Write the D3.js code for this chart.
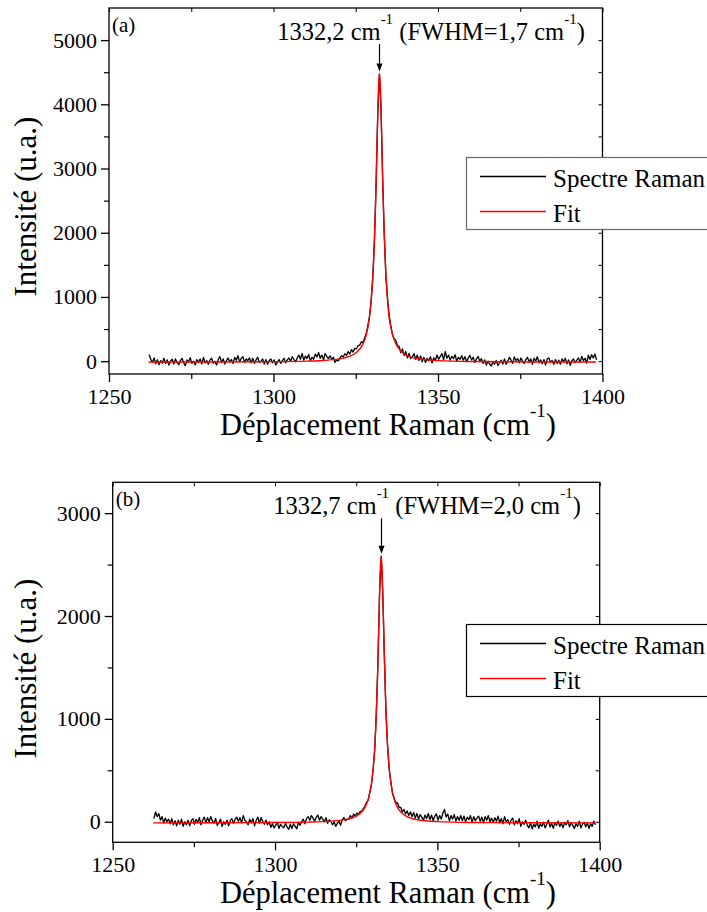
<!DOCTYPE html>
<html><head><meta charset="utf-8">
<script src="https://cdn.jsdelivr.net/npm/d3@7"></script>
<style>
body{margin:0;background:#fff;overflow:hidden}
svg{display:block}
</style>
</head><body>
<svg id="chart" width="707" height="912"></svg>
<script>
// ---------- data ----------
const xTicks = [1250, 1300, 1350, 1400];
const xMinorTicks = [1275, 1325, 1375];
const yTicksA = [0, 1000, 2000, 3000, 4000, 5000];
const yMinorA = [500, 1500, 2500, 3500, 4500];
const yTicksB = [0, 1000, 2000, 3000];
const yMinorB = [500, 1500, 2500];

const seriesNames = ["Spectre Raman", "Fit"];
const panelLabels = ["(a)", "(b)"];
const peakPositions = [1332.2, 1332.7];
const peakLabels = ["1332,2", "1332,7"];
const fwhmLabels = ["1,7", "2,0"];

// Raman spectrum (a): first wavenumber 1262.2, step 0.5 cm-1
const specAStart = 1262.2, specAStep = 0.5;
const specA = [
 100, 30, -20, 50, -40, 20, -55, 10, -30, 45,
 -35, 20, -60, 0, 30, -45, 35, -20, -55, 10,
 45, -25, -70, 20, -10, 55, -35, 0, -60, 25,
 -20, 35, -45, 60, -25, 10, -50, 20, 45, -35,
 0, -60, 25, 70, -20, 35, -45, 10, 50, -10,
 25, -35, 60, 15, 85, -10, 45, 70, -20, 35,
 10, 50, -25, 45, -35, 20, 60, -20, 0, 35,
 -45, 25, -50, 10, 35, -25, 20, -60, -15, 25,
 -35, 10, 45, -25, 20, 50, 0, 70, 25, -10,
 50, 95, 30, 120, 15, 80, 40, 105, 5, 60,
 30, 110, 65, 135, 45, 95, 20, 120, 75, 40,
 85, 30, 60, -20, 20, 5, 50, 85, 65, 115,
 90, 150, 110, 180, 140, 200, 190, 240, 250, 300,
 290, 360, 430, 560, 700, 960, 1330, 1900, 2780, 3870,
 4470, 3900, 2790, 1920, 1300, 950, 700, 540, 400, 350,
 320, 240, 230, 130, 190, 90, 150, 50, 120, 40,
 70, 120, 30, 95, 10, 80, -10, 60, -20, 45,
 5, 70, -25, 50, 15, 95, 30, 75, 120, 20,
 150, 45, 95, 15, 75, 40, 100, 0, 60, 30,
 85, 15, 70, -10, 50, 90, 20, 60, -20, 35,
 75, 0, 40, -35, 20, -60, 0, -45, -75, -15,
 -50, 10, -70, -25, 15, -45, 35, -50, 0, 60,
 15, -35, 65, 10, 40, -25, 50, 0, -35, 25,
 60, -15, 35, -50, 45, 0, 70, -25, 20, -40,
 25, -60, 35, 50, -15, 10, -50, 25, -35, 15,
 -50, 35, -10, 45, -40, 20, -65, 10, 35, -25,
 15, 50, -15, 75, 10, 45, -30, 95, 25, 100,
 50, 110, 20
];
const fitAX = [1262, 1280, 1300, 1310, 1315, 1320, 1323, 1325, 1327, 1328, 1329, 1330, 1330.5, 1331, 1331.5, 1332, 1332.2, 1332.5, 1333, 1333.5, 1334, 1334.5, 1335, 1336, 1337, 1339, 1341, 1345, 1350, 1360, 1380, 1398];
const fitAY = [-14, -12, -8, 0, 10, 35, 73, 127, 249, 377, 620, 1144, 1638, 2404, 3458, 4361, 4480, 4238, 3234, 2225, 1521, 1070, 745, 456, 289, 143, 80, 31, 9, -5, -12, -13];

// Raman spectrum (b): first wavenumber 1262.7, step 0.5 cm-1
const specBStart = 1262.7, specBStep = 0.5;
const specB = [
 30, 95, 50, 80, 15, 50, -10, 35, 0, 25,
 -20, 30, -30, 10, -40, 15, -25, 25, -45, 0,
 -30, 15, -40, 10, 30, -25, 25, -10, 40, -30,
 15, 45, -10, 40, 0, 50, 10, -15, 30, -35,
 -10, 25, -45, 0, -25, 15, -40, 10, 30, -15,
 25, 45, 5, 40, -10, 60, 15, 0, -30, 25,
 -10, 30, -40, 15, 45, -15, 40, 5, -25, 15,
 -30, 0, -55, -20, -60, -35, -5, -65, -25, -45,
 -60, -15, -50, -75, -25, -65, -20, -45, -70, -5,
 -35, 0, 25, -20, 30, 50, 15, 60, 35, 5,
 45, 65, 15, 50, 25, 0, 40, -15, 20, 5,
 -30, 0, -45, -15, 5, -35, 20, 40, 10, 25,
 25, 60, 35, 75, 55, 85, 70, 100, 100, 130,
 150, 190, 210, 290, 360, 510, 700, 1060, 1550, 2230,
 2580, 2200, 1580, 1040, 720, 500, 380, 270, 230, 180,
 185, 140, 140, 95, 120, 75, 105, 60, 95, 50,
 90, 35, 80, 25, 70, 45, 15, 65, 30, 80,
 20, 65, 10, 55, 75, 15, 60, 25, 85, 120,
 45, 75, 10, 60, 25, 70, 5, 50, 15, 60,
 10, 55, 0, 45, 20, 60, -5, 50, 10, 35,
 55, 5, 45, -10, 50, 15, 60, 0, 35, -5,
 40, 5, 55, -10, 30, -20, 50, 0, 20, -25,
 15, 35, -30, 10, -20, 30, -45, 0, -25, 15,
 -35, -60, -10, -70, -25, -50, 5, -65, -20, -45,
 -5, -60, -25, 15, -50, -15, -65, -10, -35, 5,
 -45, -15, -60, -5, -30, 10, -50, -10, -35, -65,
 -20, -45, 5, -60, -25, -5, -50, -10, -65, -20,
 -45, 5, -30
];
const fitBX = [1262.5, 1280, 1300, 1310, 1315, 1320, 1323, 1325, 1327, 1328, 1329, 1330, 1330.5, 1331, 1331.5, 1332, 1332.5, 1332.7, 1333, 1333.5, 1334, 1334.5, 1335, 1336, 1337, 1339, 1341, 1345, 1350, 1360, 1380, 1398.5];
const fitBY = [-11, -10, -8, -4, 1, 13, 30, 54, 107, 159, 253, 444, 620, 895, 1333, 1956, 2508, 2585, 2432, 1822, 1230, 829, 577, 312, 189, 86, 45, 14, 1, -7, -10, -11];

// ---------- layout ----------
const FONT = "'Liberation Serif', Tinos, 'Times New Roman', Times, 'Noto Serif', 'DejaVu Serif', FreeSerif, serif";
const panels = [
  {box:{l:109, r:602.5, t:8, b:374}, yDomain:[-200, 5500], yTicks:yTicksA, yMinor:yMinorA,
   specStart:specAStart, specStep:specAStep, spec:specA, fitX:fitAX, fitY:fitAY,
   annotCX:431, legendY:157, legendStroke:"#666", titleCY:206.5},
  {box:{l:112.7, r:599.7, t:482.3, b:842.3}, yDomain:[-200, 3300], yTicks:yTicksB, yMinor:yMinorB,
   specStart:specBStart, specStep:specBStep, spec:specB, fitX:fitBX, fitY:fitBY,
   annotCX:427, legendY:624.3, legendStroke:"#000", titleCY:668.5}
];

const svg = d3.select("#chart").attr("font-family", FONT);

panels.forEach((p, i) => {
  const {l, r, t, b} = p.box;
  const x = d3.scaleLinear().domain([1250, 1400]).range([l, r]);
  const y = d3.scaleLinear().domain(p.yDomain).range([b, t]);
  const g = svg.append("g");

  // frame
  g.append("rect").attr("x", l).attr("y", t).attr("width", r - l).attr("height", b - t)
    .attr("fill", "none").attr("stroke", "#000").attr("stroke-width", 1.3);

  // bottom axis
  const bx = g.append("g").attr("transform", `translate(0,${b})`)
    .call(d3.axisBottom(x).tickValues(xTicks).tickSize(8).tickSizeOuter(0).tickFormat(d3.format("d")));
  bx.attr("font-family", FONT).attr("font-size", 22);
  bx.select(".domain").remove();
  bx.selectAll("line").attr("stroke-width", 1.3);
  bx.selectAll("text").attr("y", 14).attr("dy", "0.71em");
  g.append("g").attr("transform", `translate(0,${b})`)
    .call(d3.axisBottom(x).tickValues(xMinorTicks).tickSize(5).tickFormat(""))
    .call(s => { s.select(".domain").remove(); s.selectAll("line").attr("stroke-width", 1.2); });

  // top axis (inward ticks)
  g.append("g").attr("transform", `translate(0,${t})`)
    .call(d3.axisBottom(x).tickValues(xTicks.concat(xMinorTicks)).tickSize(4).tickFormat(""))
    .call(s => { s.select(".domain").remove(); s.selectAll("line").attr("stroke-width", 1); });

  // left axis
  const ly = g.append("g").attr("transform", `translate(${l},0)`)
    .call(d3.axisLeft(y).tickValues(p.yTicks).tickSize(8).tickSizeOuter(0).tickFormat(d3.format("d")));
  ly.attr("font-family", FONT).attr("font-size", 22);
  ly.select(".domain").remove();
  ly.selectAll("line").attr("stroke-width", 1.3);
  ly.selectAll("text").attr("x", -12);
  g.append("g").attr("transform", `translate(${l},0)`)
    .call(d3.axisLeft(y).tickValues(p.yMinor).tickSize(5).tickFormat(""))
    .call(s => { s.select(".domain").remove(); s.selectAll("line").attr("stroke-width", 1.2); });

  // right axis (inward ticks)
  g.append("g").attr("transform", `translate(${r},0)`)
    .call(d3.axisRight(y).tickValues(p.yTicks.concat(p.yMinor)).tickSize(-4).tickFormat(""))
    .call(s => { s.select(".domain").remove(); s.selectAll("line").attr("stroke-width", 1); });

  // spectrum
  const specPts = p.spec.map((v, k) => [p.specStart + p.specStep * k, v]);
  g.append("path").datum(specPts)
    .attr("fill", "none").attr("stroke", "#000").attr("stroke-width", 1.3)
    .attr("stroke-linejoin", "round")
    .attr("d", d3.line().x(d => x(d[0])).y(d => y(d[1])));

  // fit
  const fitPts = p.fitX.map((v, k) => [v, p.fitY[k]]);
  g.append("path").datum(fitPts)
    .attr("fill", "none").attr("stroke", "#ff0000").attr("stroke-width", 1.4)
    .attr("d", d3.line().curve(d3.curveMonotoneX).x(d => x(d[0])).y(d => y(d[1])));

  // panel label
  g.append("text").attr("x", l + 3).attr("y", t + 24).attr("font-size", 21).text(panelLabels[i]);

  // annotation
  const ann = g.append("text").attr("x", p.annotCX).attr("y", t + 32).attr("text-anchor", "middle").attr("font-size", 24.5);
  ann.append("tspan").text(peakLabels[i] + " cm");
  ann.append("tspan").attr("dy", -16).attr("font-size", 15).text("-1");
  ann.append("tspan").attr("dy", 16).text(" (FWHM=" + fwhmLabels[i] + " cm");
  ann.append("tspan").attr("dy", -16).attr("font-size", 15).text("-1");
  ann.append("tspan").attr("dy", 16).text(")");

  // arrow
  const peakVal = d3.max(p.fitY);
  const ax = Math.round(x(peakPositions[i])) + 0.5;
  const tipY = y(peakVal) - 2;
  g.append("line").attr("x1", ax).attr("x2", ax).attr("y1", t + 36).attr("y2", tipY - 6)
    .attr("stroke", "#000").attr("stroke-width", 1.2);
  g.append("path").attr("d", `M${ax - 3},${tipY - 8}L${ax + 3},${tipY - 8}L${ax},${tipY}Z`).attr("fill", "#000");

  // legend
  const lg = g.append("g").attr("transform", `translate(466,${Math.round(p.legendY)})`);
  lg.append("rect").attr("x", 0.5).attr("y", 0.5).attr("width", 280).attr("height", 72)
    .attr("fill", "#fff").attr("stroke", p.legendStroke).attr("stroke-width", 1.2);
  const colors = ["#000", "#ff0000"];
  seriesNames.forEach((name, k) => {
    const ly0 = 19.5 + k * 35;
    lg.append("line").attr("x1", 14).attr("x2", 80).attr("y1", ly0).attr("y2", ly0)
      .attr("stroke", colors[k]).attr("stroke-width", 1.3);
    lg.append("text").attr("x", 87).attr("y", ly0 + 10).attr("font-size", 25).text(name);
  });

  // axis titles
  const xt = g.append("text").attr("x", 388).attr("y", b + 61).attr("text-anchor", "middle").attr("font-size", 30.5);
  xt.append("tspan").text("Déplacement Raman (cm");
  xt.append("tspan").attr("dy", -18).attr("font-size", 19).text("-1");
  xt.append("tspan").attr("dy", 18).text(")");

  g.append("text").attr("transform", `translate(36,${p.titleCY}) rotate(-90)`)
    .attr("text-anchor", "middle").attr("font-size", 31).text("Intensité (u.a.)");
});
</script>
</body></html>
